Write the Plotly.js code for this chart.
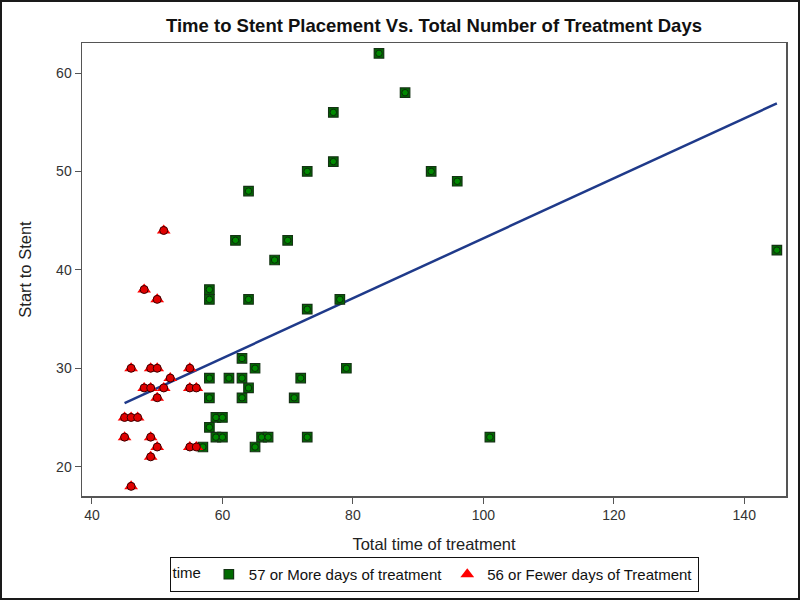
<!DOCTYPE html>
<html>
<head>
<meta charset="utf-8">
<script src="https://cdn.plot.ly/plotly-3.0.1.min.js"></script>
<style>
  html, body { margin: 0; padding: 0; background: #fff; }
  #wrap { position: relative; width: 800px; height: 600px; }
  #chart { width: 800px; height: 600px; }
  #frame { position: absolute; left: 0; top: 0; width: 800px; height: 600px; box-sizing: border-box; border: 2px solid #1a1a1a; pointer-events: none; }
</style>
</head>
<body>
<div id="wrap"><div id="chart"></div><div id="frame"></div></div>
<script>
// 57 or More days of treatment
const moreX = [84, 88, 77, 77, 73, 92, 96, 64, 62, 70, 68, 58, 58, 64, 78, 73, 63, 65, 79, 58, 61, 63, 72, 64, 58, 63, 71, 59, 60, 58, 59, 60, 66, 67, 73, 101, 57, 65, 145];
const moreY = [62, 58, 56, 51, 50, 50, 49, 48, 43, 43, 41, 38, 37, 37, 37, 36, 31, 30, 30, 29, 29, 29, 29, 28, 27, 27, 27, 25, 25, 24, 23, 23, 23, 23, 23, 23, 22, 22, 42];
// 56 or Fewer days of Treatment
const fewerX = [51, 48, 50, 46, 49, 50, 55, 52, 48, 49, 51, 55, 56, 50, 45, 46, 47, 45, 49, 50, 55, 56, 49, 46];
const fewerY = [44, 38, 37, 30, 30, 30, 30, 29, 28, 28, 28, 28, 28, 27, 25, 25, 25, 23, 23, 22, 22, 22, 21, 18];

const xTicks = [40, 60, 80, 100, 120, 140];
const yTicks = [20, 30, 40, 50, 60];
const groupNames = ['57 or More days of treatment', '56 or Fewer days of Treatment'];

// least-squares fit over all points
const allX = moreX.concat(fewerX);
const allY = moreY.concat(fewerY);
const n = allX.length;
const mx = allX.reduce((a, b) => a + b, 0) / n;
const my = allY.reduce((a, b) => a + b, 0) / n;
let sxy = 0, sxx = 0;
for (let i = 0; i < n; i++) { sxy += (allX[i] - mx) * (allY[i] - my); sxx += (allX[i] - mx) ** 2; }
const slope = sxy / sxx;
const icpt = my - slope * mx;
const xmin = Math.min(...allX), xmax = Math.max(...allX);
const fitX = [xmin, xmax];
const fitY = fitX.map(v => icpt + slope * v);

const font = 'Liberation Sans, Arial, sans-serif';

const traces = [
  { x: fitX, y: fitY, type: 'scatter', mode: 'lines', showlegend: false,
    line: { color: '#1f3a8a', width: 2.5 } },
  { x: moreX, y: moreY, type: 'scatter', mode: 'markers', name: groupNames[0],
    marker: { symbol: 'square', size: 9.5, color: '#006a00', line: { color: '#143214', width: 1.2 } } },
  { x: moreX, y: moreY, type: 'scatter', mode: 'markers', showlegend: false, hoverinfo: 'skip',
    marker: { symbol: 'circle', size: 6.5, color: '#008a00', line: { color: '#0c2a0c', width: 1 } } },
  { x: fewerX, y: fewerY, type: 'scatter', mode: 'markers', name: groupNames[1],
    marker: { symbol: 'triangle-up', size: 12, color: '#ff0000', line: { color: '#ff0000', width: 0 } } },
  { x: fewerX, y: fewerY, type: 'scatter', mode: 'markers', showlegend: false, hoverinfo: 'skip',
    marker: { symbol: 'circle', size: 8, color: '#e00000', line: { color: '#3a0000', width: 1 } } }
];

const axisCommon = {
  showline: true, mirror: true, linecolor: '#555', linewidth: 1.5,
  ticks: 'outside', ticklen: 6, tickcolor: '#555', tickwidth: 1,
  showgrid: false, zeroline: false,
  tickfont: { family: font, size: 14, color: '#333' }
};

const layout = {
  width: 800, height: 600,
  margin: { l: 82, r: 14, t: 43, b: 104 },
  paper_bgcolor: '#fff', plot_bgcolor: '#fff',
  font: { family: font, color: '#222' },
  title: { text: '<b>Time to Stent Placement Vs. Total Number of Treatment Days</b>',
    font: { family: font, size: 18.5, color: '#111' },
    xref: 'paper', x: 0.5, xanchor: 'center', yref: 'container', y: 0.957, yanchor: 'middle' },
  xaxis: Object.assign({}, axisCommon, {
    range: [38.47, 146.4], tickvals: xTicks, ticktext: xTicks.map(String),
    title: { text: 'Total time of treatment', font: { family: font, size: 16.5, color: '#222' }, standoff: 16 }
  }),
  yaxis: Object.assign({}, axisCommon, {
    range: [17.02, 63.05], tickvals: yTicks, ticktext: yTicks.map(String),
    title: { text: 'Start to Stent', font: { family: font, size: 16.5, color: '#222' }, standoff: 20 }
  }),
  legend: {
    orientation: 'h', x: 0.5, xanchor: 'center', xref: 'paper',
    y: 0.0425, yanchor: 'middle', yref: 'container',
    bordercolor: '#111', borderwidth: 1, bgcolor: '#fff',
    font: { family: font, size: 15, color: '#111' },
    title: { text: 'time', side: 'left', font: { family: font, size: 15, color: '#111' } },
    itemwidth: 30, tracegroupgap: 0
  },
  showlegend: true
};

Plotly.newPlot('chart', traces, layout, { displayModeBar: false, staticPlot: true });
</script>
</body>
</html>
